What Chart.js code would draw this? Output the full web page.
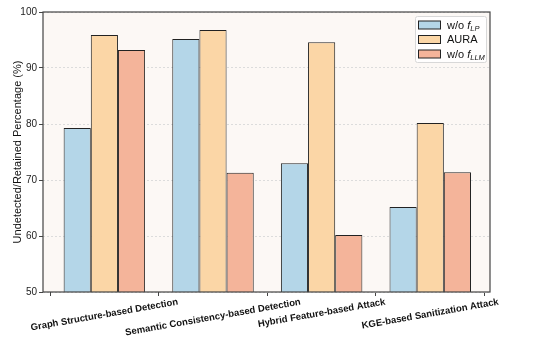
<!DOCTYPE html>
<html>
<head>
<meta charset="utf-8">
<script src="https://cdn.jsdelivr.net/npm/chart.js@4/dist/chart.umd.min.js"></script>
<style>
  html, body { margin: 0; padding: 0; background: #ffffff; }
  #wrap { width: 538px; height: 339px; }
</style>
</head>
<body>
<div id="wrap"><canvas id="bars" width="538" height="339"></canvas></div>
<script>
// categories along x
var categories = ["Graph Structure-based Detection", "Semantic Consistency-based Detection", "Hybrid Feature-based Attack", "KGE-based Sanitization Attack"];

// series values
var woLP  = [79.3, 95.2, 73.0, 65.2];
var aura  = [95.9, 96.8, 94.6, 80.2];
var woLLM = [93.2, 71.3, 60.2, 71.4];

var yTicks = [50, 60, 70, 80, 90, 100];

// legend labels: plain part + italic f + subscript
var seriesNames = [
    { text: "w/o ", sym: "f", sub: "LP" },
    { text: "AURA", sym: "", sub: "" },
    { text: "w/o ", sym: "f", sub: "LLM" }
];

var colors = ['#b4d6e8', '#fbd6a6', '#f4b49a'];
var FONT = "'Liberation Sans', Arial, sans-serif";

function toPoints(arr) {
    return arr.map(function(v, i) { return { x: i, y: v }; });
}

// plot background, frame, category labels and legend
var frame = {
    id: 'frame',
    beforeDraw: function(chart) {
        var a = chart.chartArea, c = chart.ctx;
        c.save();
        c.fillStyle = '#fcf8f5';
        c.fillRect(a.left, a.top, a.right - a.left, a.bottom - a.top);
        c.restore();
    },
    afterDraw: function(chart) {
        var a = chart.chartArea, c = chart.ctx;
        c.save();
        c.strokeStyle = '#444';
        c.lineWidth = 1.2;
        c.strokeRect(a.left, a.top, a.right - a.left, a.bottom - a.top);

        // rotated bold category labels
        var x = chart.scales.x;
        c.font = 'bold 9.5px ' + FONT;
        c.fillStyle = '#111';
        c.textAlign = 'center';
        c.textBaseline = 'middle';
        var ang = 10 * Math.PI / 180;
        categories.forEach(function(lab, i) {
            var px = x.getPixelForValue(i);
            var w = c.measureText(lab).width;
            var h = 10;
            var cy = a.bottom + 5 + (w * Math.sin(ang) + h * Math.cos(ang)) / 2;
            c.save();
            c.translate(px, cy);
            c.rotate(-ang);
            c.fillText(lab, 0, 0);
            c.restore();
        });

        // legend
        var bw = 71, bh = 46;
        var lx = a.right - 4 - bw, ly = a.top + 4;
        c.fillStyle = 'rgba(255,255,255,0.85)';
        c.strokeStyle = '#d8d8d8';
        c.lineWidth = 1;
        c.beginPath();
        c.roundRect(lx + 0.5, ly + 0.5, bw, bh, 2);
        c.fill();
        c.stroke();
        seriesNames.forEach(function(s, i) {
            var ry = ly + 8.5 + i * 14.5;
            c.fillStyle = colors[i];
            c.fillRect(lx + 3.5, ry - 3.5, 22, 8);
            c.strokeStyle = '#222';
            c.lineWidth = 1;
            c.strokeRect(lx + 3.5, ry - 3.5, 22, 8);
            c.fillStyle = '#111';
            c.textAlign = 'left';
            c.textBaseline = 'middle';
            c.font = '11px ' + FONT;
            var tx = lx + 32;
            c.fillText(s.text, tx, ry + 1);
            tx += c.measureText(s.text).width;
            if (s.sym) {
                c.font = 'italic 11px ' + FONT;
                c.fillText(s.sym, tx, ry + 1);
                tx += c.measureText(s.sym).width;
                c.font = 'italic 7.5px ' + FONT;
                c.fillText(s.sub, tx, ry + 4);
            }
        });
        c.restore();
    }
};

var ctx = document.getElementById('bars').getContext('2d');

var chart = new Chart(ctx, {
    type: 'bar',
    data: {
        datasets: [
            { label: 'w/o f_LP', data: toPoints(woLP), backgroundColor: colors[0], borderColor: '#222', borderWidth: 1 },
            { label: 'AURA', data: toPoints(aura), backgroundColor: colors[1], borderColor: '#222', borderWidth: 1 },
            { label: 'w/o f_LLM', data: toPoints(woLLM), backgroundColor: colors[2], borderColor: '#222', borderWidth: 1 }
        ]
    },
    options: {
        responsive: false,
        animation: false,
        layout: { padding: { top: 12, right: 48, left: 0, bottom: 0 } },
        datasets: { bar: { categoryPercentage: 0.75, barPercentage: 1.0 } },
        plugins: {
            legend: { display: false },
            tooltip: { enabled: false }
        },
        scales: {
            x: {
                type: 'linear',
                min: -0.565,
                max: 3.55,
                offset: false,
                afterBuildTicks: function(s) { s.ticks = categories.map(function(c, i) { return { value: i }; }); },
                grid: { display: true, drawOnChartArea: false, drawTicks: true, tickLength: 4, tickColor: '#444', tickWidth: 1 },
                border: { display: false },
                ticks: { display: false },
                afterFit: function(s) { s.height = 47; }
            },
            y: {
                min: 50,
                max: 100,
                afterBuildTicks: function(s) { s.ticks = yTicks.map(function(v) { return { value: v }; }); },
                grid: { color: '#dcdcdc', lineWidth: 1, drawTicks: true, tickLength: 4, tickColor: '#444', tickWidth: 1, tickBorderDash: [] },
                border: { display: false, dash: [2, 2] },
                ticks: { color: '#222', font: { size: 10, family: FONT }, padding: 2 },
                title: { display: true, text: 'Undetected/Retained Percentage (%)', color: '#111', font: { size: 11, family: FONT }, padding: { top: 11, bottom: 4 } },
                afterFit: function(s) { s.width = 43; }
            }
        }
    },
    plugins: [frame]
});
</script>
</body>
</html>
